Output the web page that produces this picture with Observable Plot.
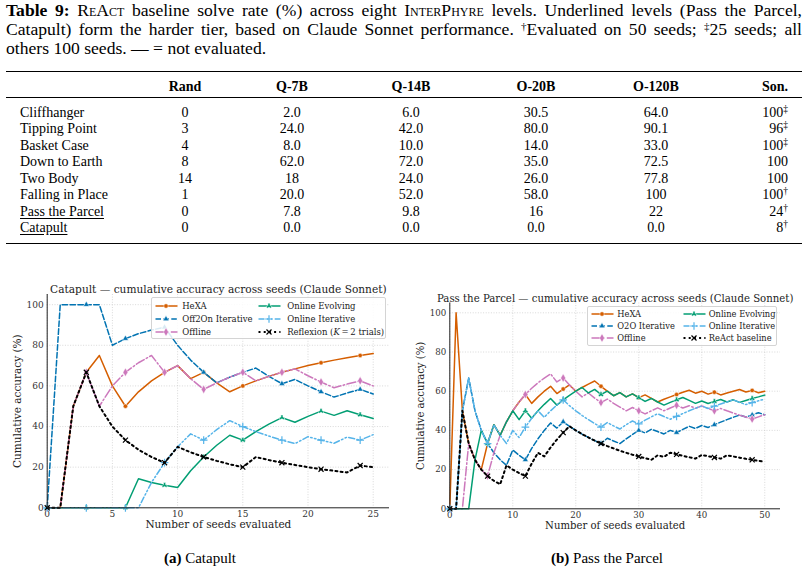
<!DOCTYPE html>
<html><head><meta charset="utf-8">
<script src="https://cdn.jsdelivr.net/npm/d3@7"></script>
<script src="https://cdn.jsdelivr.net/npm/@observablehq/plot@0.6"></script>
<style>
body{margin:0;background:#fff;}
#page{position:relative;width:807px;height:574px;overflow:hidden;background:#fff;font-family:"Liberation Serif","Times New Roman",serif;color:#000;}
.capl{position:absolute;left:6px;font-size:17.6px;line-height:19px;white-space:nowrap;}
.sc{font-variant:small-caps;}
.dag{font-size:11px;line-height:10px;vertical-align:5px;}
.cell{position:absolute;font-size:14px;line-height:16px;white-space:nowrap;}
.rule{position:absolute;left:6px;width:796px;background:#000;}
.leg{position:absolute;border:1px solid #d4d4d4;border-radius:2px;background:rgba(255,255,255,0.85);font-family:"DejaVu Serif";color:#222;}
.leg .it{position:absolute;white-space:nowrap;line-height:10px;}
.sub{position:absolute;top:549px;font-size:15px;line-height:18px;white-space:nowrap;transform:translateX(-50%);}
</style></head>
<body><div id="page"></div>
<script>
// ---------------- data ----------------
const levels = ["Cliffhanger","Tipping Point","Basket Case","Down to Earth","Two Body","Falling in Place","Pass the Parcel","Catapult"];
const underlinedLevels = ["Pass the Parcel","Catapult"];
const colHeads = ["Rand","Q-7B","Q-14B","O-20B","O-120B","Son."];
const randVals = ["0","3","4","8","14","1","0","0"];
const q7Vals = ["2.0","24.0","8.0","62.0","18","20.0","7.8","0.0"];
const q14Vals = ["6.0","42.0","10.0","72.0","24.0","52.0","9.8","0.0"];
const o20Vals = ["30.5","80.0","14.0","35.0","26.0","58.0","16","0.0"];
const o120Vals = ["64.0","90.1","33.0","72.5","77.8","100","22","0.0"];
const sonVals = ["100","96","100","100","100","100","24","8"];
const sonMarks = ["‡","‡","‡","","","†","†","†"];

const seedsA = d3.range(0, 26);
const namesA = ["HeXA","Off2On Iterative","Offline","Online Evolving","Online Iterative","Reflexion (<i>K</i>\u2009=\u20092 trials)"];
const hexaA = [0,0,50,66.7,75,60,50,57.1,62.5,66.7,70,63.6,66.7,61.5,57.1,60,62.5,64.7,66.7,68.4,70,71.4,72.7,73.9,75,76];
const off2onA = [0,100,100,100,100,80,83.3,85.7,87.5,88.9,80,72.7,66.7,61.5,64.3,66.7,68.8,64.7,61.1,63.2,60,57.1,54.5,56.5,58.3,56];
const offlineA = [0,0,50,66.7,50,60,66.7,71.4,75,66.7,70,63.6,58.3,61.5,64.3,66.7,62.5,64.7,66.7,68.4,65,61.9,59.1,60.9,62.5,60];
const onEvoA = [0,0,0,0,0,0,0,14.3,12.5,11.1,10,18.2,25,30.8,35.7,33.3,37.5,41.2,44.4,42.1,45,47.6,45.5,47.8,45.8,44];
const onIterA = [0,0,0,0,0,0,0,0,12.5,22.2,30,36.4,33.3,38.5,42.9,40,37.5,35.3,33.3,31.6,35,33.3,31.8,34.8,33.3,36];
const reflexA = [0,0,50,66.7,50,40,33.3,28.6,25,22.2,30,27.3,25,23.1,21.4,20,25,23.5,22.2,21.1,20,19,18.2,17.4,20.8,20];

const seedsB = d3.range(0, 51);
const namesB = ["HeXA","O2O Iterative","Offline","Online Evolving","Online Iterative","ReAct baseline"];
const hexaB = [0,100,50,33.3,25,20,33.3,42.9,37.5,44.4,50,54.5,58.3,53.8,57.1,60,62.5,58.8,61.1,63.2,60,61.9,63.6,65.2,62.5,60,57.7,59.3,57.1,58.6,56.7,58.1,56.3,54.5,55.9,57.1,58.3,59.5,60.5,59,60,58.5,59.5,58.1,59.1,60,60.9,59.6,60.4,59.2,60];
const o2oB = [0,0,50,66.7,50,40,33.3,28.6,25,22.2,30,27.3,25,30.8,35.7,40,43.8,41.2,44.4,42.1,40,38.1,36.4,34.8,33.3,36,34.6,33.3,35.7,37.9,40,38.7,40.6,39.4,38.2,40,38.9,40.5,42.1,41,42.5,41.5,42.9,44.2,45.5,46.7,47.8,46.8,47.9,49,48];
const offlineB = [0,0,0,33.3,25,20,16.7,28.6,37.5,44.4,50,54.5,58.3,61.5,64.3,66.7,68.8,64.7,66.7,63.2,60,57.1,59.1,56.5,54.2,56,53.8,51.9,50,51.7,50,48.4,50,51.5,50,51.4,52.8,51.4,52.6,51.3,52.5,51.2,50,51.2,50,48.9,47.8,46.8,45.8,46.9,48];
const onEvoB = [0,0,0,0,25,40,33.3,42.9,37.5,44.4,50,45.5,50,46.2,50,53.3,56.3,52.9,55.6,57.9,60,61.9,59.1,60.9,58.3,60,57.7,59.3,57.1,58.6,56.7,54.8,56.3,54.5,52.9,54.3,55.6,56.8,55.3,53.8,55,53.7,54.8,55.8,54.5,55.6,54.3,55.3,56.3,57.1,58];
const onIterB = [0,0,50,66.7,50,40,33.3,42.9,37.5,33.3,40,36.4,41.7,46.2,50,46.7,50,52.9,55.6,52.6,50,47.6,45.5,43.5,41.7,44,42.3,40.7,42.9,44.8,43.3,45.2,46.9,48.5,47.1,45.7,47.2,48.6,50,51.3,52.5,51.2,52.4,53.5,54.5,55.6,54.3,53.2,54.2,55.1,56];
const reactB = [0,0,50,33.3,25,20,16.7,14.3,12.5,22.2,20,18.2,16.7,23.1,28.6,26.7,31.3,35.3,38.9,42.1,40,38.1,36.4,34.8,33.3,32,30.8,29.6,28.6,27.6,26.7,25.8,25,27.3,26.5,28.6,27.8,27,26.3,25.6,27.5,26.8,26.2,25.6,27.3,26.7,26.1,25.5,25,24.5,24];

const yTicks = [0,20,40,60,80,100];
const xTicksA = [0,5,10,15,20,25];
const xTicksB = [0,10,20,30,40,50];

// ---------------- styles ----------------
const styles = [
  {color:"#d55e00", dash:null, symbol:"circle", filled:true, w:1.5, r:2.2},
  {color:"#0173b2", dash:"5.5,2.4", symbol:"triangle", filled:true, w:1.5, r:2.2},
  {color:"#cc78bc", dash:"9,2.4,1.5,2.4", symbol:"diamond", filled:true, w:1.5, r:2.6},
  {color:"#029e73", dash:null, symbol:"wye", filled:true, w:1.5, r:2.2},
  {color:"#56b4e9", dash:"6,2.4,1.5,2.4,1.5,2.4", symbol:"plus", filled:false, w:1.5, r:2.6},
  {color:"#000000", dash:"2,3.2", symbol:"times", filled:false, w:2, r:2.4}
];

const page = document.getElementById("page");
function el(tag, cls, css, html){const e=document.createElement(tag); if(cls) e.className=cls; if(css) e.style.cssText=css; if(html!=null) e.innerHTML=html; page.appendChild(e); return e;}

// ---------------- caption ----------------
function justLine(top, html, full){
  const d = el("div","capl",`top:${top}px;`,html);
  if (full){
    const w = d.getBoundingClientRect().width;
    const spaces = (d.textContent.match(/ /g)||[]).length;
    if (w > 796) { d.style.letterSpacing = ((796-w)/d.textContent.length)+"px"; }
    else d.style.wordSpacing = ((796-w)/spaces)+"px";
  }
  return d;
}
justLine(0.5,'<b>Table 9:</b> <span class="sc">ReAct</span> baseline solve rate (%) across eight <span class="sc">InterPhyre</span> levels. Underlined levels (Pass the Parcel,',true);
justLine(19.5,'Catapult) form the harder tier, based on Claude Sonnet performance. <span class="dag">†</span>Evaluated on 50 seeds; <span class="dag">‡</span>25 seeds; all',true);
justLine(38.5,'others 100 seeds. — = not evaluated.',false);

// ---------------- table ----------------
el("div","rule","top:70.5px;height:1.3px;");
el("div","rule","top:96.5px;height:0.8px;");
el("div","rule","top:242.5px;height:1.3px;");
const colCenters = [185,292,411,536,656];
const headY = 78.5;
colHeads.forEach((h,j)=>{
  if (j<5) el("div","cell",`top:${headY}px;left:${colCenters[j]}px;transform:translateX(-50%);font-weight:bold;`,h);
  else el("div","cell",`top:${headY}px;right:${807-788}px;font-weight:bold;`,h);
});
const cols = [randVals,q7Vals,q14Vals,o20Vals,o120Vals];
levels.forEach((lv,i)=>{
  const top = 104.5 + i*16.55;
  const u = underlinedLevels.includes(lv) ? "text-decoration:underline;text-underline-offset:2px;" : "";
  el("div","cell",`top:${top}px;left:20px;${u}`,lv);
  cols.forEach((c,j)=> el("div","cell",`top:${top}px;left:${colCenters[j]}px;transform:translateX(-50%);`,c[i]));
  const m = sonMarks[i] ? `<span style="font-size:9.5px;line-height:9px;vertical-align:5px">${sonMarks[i]}</span>` : "";
  el("div","cell",`top:${top}px;right:${807-788}px;`,sonVals[i]+m);
});

// ---------------- charts ----------------
function buildChart(cfg){
  const k = cfg.fs;
  const marks = [];
  marks.push(Plot.ruleX(cfg.xticks,{stroke:"#c8c8c8",strokeDasharray:"1,1.6",strokeWidth:0.7}));
  marks.push(Plot.ruleY(cfg.yticks.filter(d=>d>0),{stroke:"#c8c8c8",strokeDasharray:"1,1.6",strokeWidth:0.7}));
  cfg.series.forEach((vals,si)=>{
    const st = styles[si];
    const data = cfg.seeds.map((x,i)=>({x, y: vals[i], i}));
    marks.push(Plot.line(data,{x:"x",y:"y",stroke:st.color,strokeWidth:st.w,strokeDasharray:st.dash||undefined,strokeLinejoin:"round"}));
    const md = data.filter(d=>d.i % cfg.every === 0);
    if (st.filled) marks.push(Plot.dot(md,{x:"x",y:"y",symbol:st.symbol,r:st.r,fill:st.color,stroke:"white",strokeWidth:0.5, rotate: st.symbol==="wye"?180:0}));
    else marks.push(Plot.dot(md,{x:"x",y:"y",symbol:st.symbol,r:st.r,fill:"none",stroke:st.color,strokeWidth:1.2}));
  });
  marks.push(Plot.ruleX([0],{stroke:"#222",strokeWidth:1}));
  marks.push(Plot.ruleY([0],{stroke:"#222",strokeWidth:1}));
  marks.push(Plot.text([cfg.title],{text:d=>d,frameAnchor:"top",dy:cfg.titleDy,fontSize:10.6*k,fill:"#222"}));
  marks.push(Plot.text(["Number of seeds evaluated"],{text:d=>d,frameAnchor:"bottom",dy:20,fontSize:10.5*k,fill:"#222"}));
  marks.push(Plot.text(["Cumulative accuracy (%)"],{text:d=>d,frameAnchor:"left",textAnchor:"middle",dx:cfg.ylabDx,rotate:-90,fontSize:10.5*k,fill:"#222"}));
  return Plot.plot({
    width: cfg.width, height: 270,
    marginLeft: cfg.ml, marginRight: cfg.mr, marginTop: cfg.mt, marginBottom: cfg.mb,
    x: {domain:[0,cfg.xmax], ticks: cfg.xticks, tickSize:0, tickPadding:3, label:null},
    y: {domain:[0,105], ticks: cfg.yticks, tickSize:0, tickPadding:3.5, label:null},
    style: {fontFamily:"'DejaVu Serif'", fontSize:(9*k)+"px", color:"#333", background:"transparent", overflow:"visible"},
    marks
  });
}

const wrapA = el("div",null,"position:absolute;left:0;top:270px;");
wrapA.appendChild(buildChart({seeds:seedsA, series:[hexaA,off2onA,offlineA,onEvoA,onIterA,reflexA], every:3, xmax:26.25, xticks:xTicksA, yticks:yTicks, fs:1,
  width:400, ml:46.7, mr:11, mt:24, mb:32.7, title:"Catapult — cumulative accuracy across seeds (Claude Sonnet)", titleDy:-9, ylabDx:-29.5}));
const wrapB = el("div",null,"position:absolute;left:400px;top:270px;");
wrapB.appendChild(buildChart({seeds:seedsB, series:[hexaB,o2oB,offlineB,onEvoB,onIterB,reactB], every:6, xmax:52.5, xticks:xTicksB, yticks:yTicks, fs:0.96,
  width:407, ml:49.3, mr:27, mt:32.5, mb:31.7, title:"Pass the Parcel — cumulative accuracy across seeds (Claude Sonnet)", titleDy:-8.5, ylabDx:-28.6}));

// ---------------- legends ----------------
function symPath(name, r){
  const map = {circle:d3.symbolCircle, triangle:d3.symbolTriangle, diamond:d3.symbolDiamond, wye:d3.symbolWye, plus:d3.symbolPlus, times:d3.symbolTimes};
  return d3.symbol().type(map[name]).size(Math.PI*r*r)();
}
function legend(names, box, colX, textX, rowsY, fs){
  const L = el("div","leg",`left:${box[0]}px;top:${box[1]}px;width:${box[2]}px;height:${box[3]}px;font-size:${fs}px;`);
  names.forEach((n,i)=>{
    const st = styles[i], c = Math.floor(i/3), r = i%3;
    const y = rowsY[r];
    const dash = st.dash ? `stroke-dasharray="${st.dash}"` : "";
    const mk = st.filled
      ? `<path d="${symPath(st.symbol,st.r)}" transform="translate(11,5)${st.symbol==='wye'?' rotate(180)':''}" fill="${st.color}" stroke="white" stroke-width="0.5"/>`
      : `<path d="${symPath(st.symbol,st.r)}" transform="translate(11,5)" fill="none" stroke="${st.color}" stroke-width="1.2"/>`;
    const s = document.createElement("div");
    s.className="it";
    s.style.cssText=`left:${colX[c]}px;top:${y-5}px;width:23px;height:10px;`;
    s.innerHTML=`<svg width="23" height="10" style="display:block"><line x1="0.5" y1="5" x2="22.5" y2="5" stroke="${st.color}" stroke-width="${st.w}" ${dash}/>${mk}</svg>`;
    L.appendChild(s);
    const t = document.createElement("div");
    t.className="it";
    t.style.cssText=`left:${textX[c]}px;top:${y-5}px;`;
    t.innerHTML=n;
    L.appendChild(t);
  });
}
legend(namesA,[150.7,297.3,233,40],[3,106.5],[30.5,135.5],[7.5,20.3,33.3],8.5);
legend(namesB,[587.3,306,188,38],[3,95],[29,120.5],[7,18.8,31],8.3);

// ---------------- sub-captions ----------------
el("div","sub","left:200px;","<b>(a)</b> Catapult");
el("div","sub","left:607px;","<b>(b)</b> Pass the Parcel");
</script>
</body></html>
